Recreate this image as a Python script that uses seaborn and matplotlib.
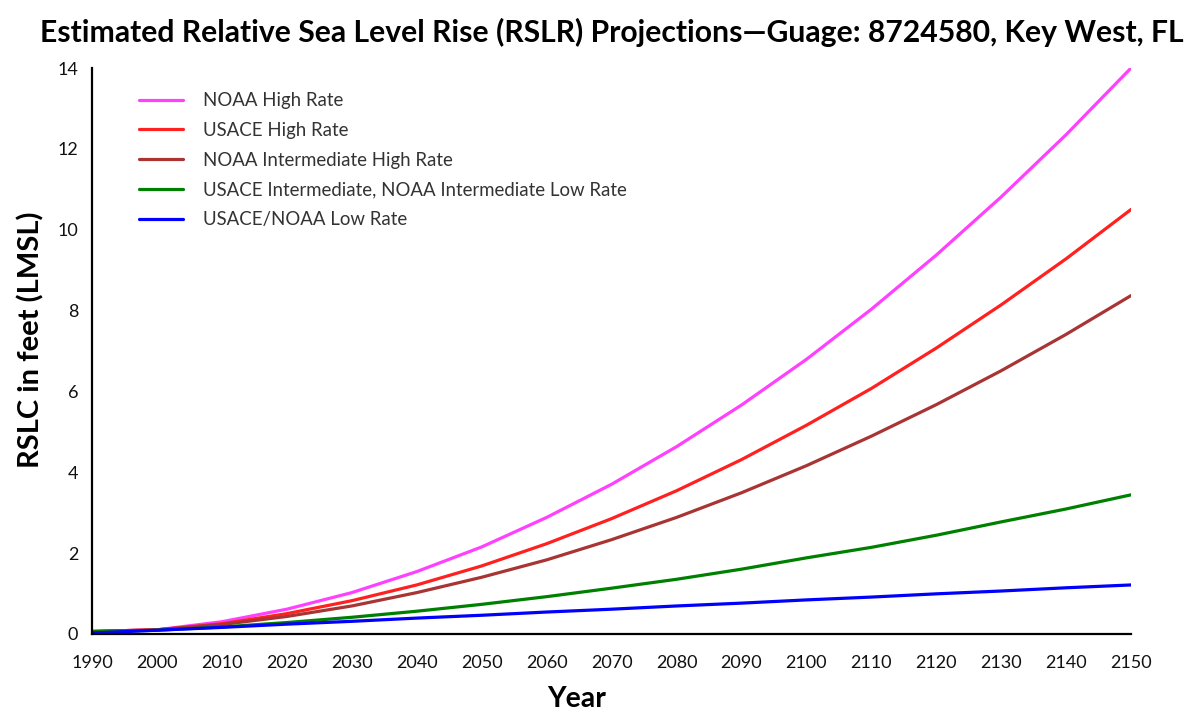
import matplotlib
matplotlib.use("Agg")
import matplotlib.pyplot as plt
import seaborn as sns
import pandas as pd

years = [1990, 2000, 2010, 2020, 2030, 2040, 2050, 2060, 2070, 2080,
         2090, 2100, 2110, 2120, 2130, 2140, 2150]

noaa_high = [0.06, 0.10, 0.30, 0.61, 1.02, 1.54, 2.15, 2.88, 3.70, 4.63,
             5.66, 6.79, 8.03, 9.37, 10.81, 12.35, 14.00]
usace_high = [0.06, 0.10, 0.25, 0.50, 0.82, 1.21, 1.68, 2.23, 2.85, 3.54,
              4.31, 5.16, 6.07, 7.07, 8.14, 9.28, 10.50]
noaa_int_high = [0.06, 0.10, 0.23, 0.43, 0.69, 1.02, 1.40, 1.83, 2.33, 2.88,
                 3.49, 4.16, 4.89, 5.67, 6.51, 7.41, 8.37]
usace_int = [0.05, 0.09, 0.17, 0.28, 0.41, 0.56, 0.73, 0.92, 1.13, 1.35,
             1.60, 1.88, 2.14, 2.44, 2.77, 3.09, 3.44]
usace_low = [0.02, 0.09, 0.16, 0.24, 0.31, 0.39, 0.46, 0.54, 0.61, 0.69,
             0.76, 0.84, 0.91, 0.99, 1.06, 1.14, 1.21]

labels = ["NOAA High Rate", "USACE High Rate", "NOAA Intermediate High Rate",
          "USACE Intermediate, NOAA Intermediate Low Rate", "USACE/NOAA Low Rate"]
colors = ["#FF40FF", "#FF2020", "#A83434", "#008000", "#0000FF"]

series = [noaa_high, usace_high, noaa_int_high, usace_int, usace_low]
frames = []
for name, vals in zip(labels, series):
    frames.append(pd.DataFrame({"Year": years, "RSLC": vals, "Scenario": name}))
df = pd.concat(frames, ignore_index=True)

sns.set_theme(style="white")
plt.rcParams["font.family"] = ["Lato", "DejaVu Sans"]

fig = plt.figure(figsize=(11.98, 7.13), dpi=100)
ax = fig.add_axes([0.0768, 0.111, 0.8673, 0.7936])

sns.lineplot(data=df, x="Year", y="RSLC", hue="Scenario", hue_order=labels,
             palette=colors, linewidth=2.3, ax=ax)

ax.set_xlim(1990, 2150)
ax.set_ylim(0, 14)
ax.set_xticks(range(1990, 2151, 10))
ax.set_yticks(range(0, 15, 2))
ax.tick_params(length=0, labelsize=13, colors="#111111")
ax.tick_params(axis="x", pad=15)
ax.tick_params(axis="y", pad=10)
for s in ["top", "right"]:
    ax.spines[s].set_visible(False)
for s in ["left", "bottom"]:
    ax.spines[s].set_color("black")
    ax.spines[s].set_linewidth(1.6)

ax.set_xlabel("Year", fontsize=20.5, fontweight="bold", color="black")
ax.set_ylabel("RSLC in feet (LMSL)", fontsize=21, fontweight="bold", color="black")
ax.xaxis.set_label_coords(0.466, -0.093)
ax.yaxis.set_label_coords(-0.046, 0.52)

ax.set_title("Estimated Relative Sea Level Rise (RSLR) Projections\u2014Guage: 8724580, Key West, FL",
             fontsize=21.7, fontweight="bold", color="black", pad=19)

leg = ax.legend(loc="upper left", bbox_to_anchor=(0.029, 0.987), frameon=False,
                fontsize=13.4, handlelength=2.37, handletextpad=1.07, labelspacing=0.69)
for t in leg.get_texts():
    t.set_color("#333333")

fig.savefig("out.png", dpi=100)
